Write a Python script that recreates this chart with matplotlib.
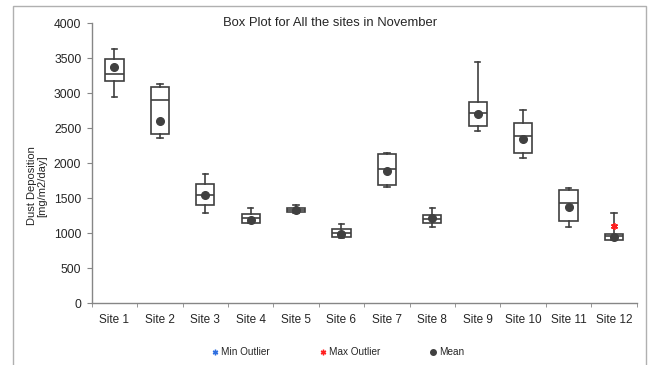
import matplotlib
matplotlib.use("Agg")
import matplotlib.pyplot as plt
from matplotlib.lines import Line2D
from matplotlib.patches import Rectangle

plt.rcParams['font.family'] = ['Liberation Sans', 'DejaVu Sans']

sites = ['Site 1', 'Site 2', 'Site 3', 'Site 4', 'Site 5', 'Site 6',
         'Site 7', 'Site 8', 'Site 9', 'Site 10', 'Site 11', 'Site 12']
whisker_low = [2945, 2355, 1285, 1142, 1288, 940, 1665, 1095, 2460, 2072, 1095, 905]
q1 = [3175, 2412, 1405, 1145, 1310, 945, 1690, 1152, 2536, 2146, 1182, 910]
median = [3272, 2898, 1546, 1213, 1333, 1000, 1915, 1205, 2712, 2384, 1428, 958]
q3 = [3484, 3084, 1700, 1270, 1357, 1060, 2128, 1261, 2880, 2576, 1615, 990]
whisker_high = [3628, 3131, 1850, 1358, 1398, 1127, 2142, 1360, 3441, 2755, 1642, 1292]
mean = [3374, 2600, 1546, 1194, 1330, 986, 1888, 1212, 2703, 2342, 1371, 952]
max_outlier_site = [12]
max_outlier_val = [1110]

edge = '#3f3f3f'
axis_col = '#868686'
text_col = '#262626'

fig = plt.figure(figsize=(6.51, 3.65), dpi=100)
ax = fig.add_axes([0.1409, 0.1690, 0.978 - 0.1409, 0.9362 - 0.1690])

stats = []
for i in range(len(sites)):
    stats.append({'whislo': whisker_low[i], 'q1': q1[i], 'med': median[i],
                  'q3': q3[i], 'whishi': whisker_high[i], 'fliers': []})

pos = list(range(1, len(sites) + 1))
ax.bxp(stats, positions=pos, widths=0.4, capwidths=0.12, showfliers=False,
       patch_artist=True,
       boxprops=dict(facecolor='white', edgecolor=edge, linewidth=1.2),
       medianprops=dict(color=edge, linewidth=1.2),
       whiskerprops=dict(color=edge, linewidth=1.2),
       capprops=dict(color=edge, linewidth=1.2), zorder=2)

ax.plot(pos, mean, 'o', color='#404040', markersize=5.5, zorder=4)
ax.plot(max_outlier_site, max_outlier_val, marker=(6, 2, 0), linestyle='none',
        color='#ff2020', markersize=5, markeredgewidth=1.2, zorder=5)

ax.set_xlim(0.5, len(sites) + 0.5)
ax.set_ylim(0, 4000)
ax.set_yticks(range(0, 4001, 500))
ax.set_xticks(pos)
ax.set_xticklabels(sites)
ax.set_xticks([p + 0.5 for p in range(len(sites) + 1)], minor=True)
ax.tick_params(axis='x', which='major', length=0, pad=8, labelsize=8.5, labelcolor=text_col)
ax.tick_params(axis='x', which='minor', length=3, color=axis_col, direction='out')
ax.tick_params(axis='y', length=3.5, color=axis_col, labelsize=8.7, labelcolor=text_col, pad=4)

for side in ['top', 'right']:
    ax.spines[side].set_visible(False)
for side in ['left', 'bottom']:
    ax.spines[side].set_color(axis_col)
    ax.spines[side].set_linewidth(1.0)

fig.text(330 / 651, 1 - 23.3 / 365, 'Box Plot for All the sites in November',
         ha='center', va='center', fontsize=9.4, color=text_col)
fig.text(37 / 651, 1 - 186 / 365, 'Dust Deposition\n[mg/m2/day]', rotation=90,
         ha='center', va='center', fontsize=8, color=text_col, linespacing=1.0)

handles = [
    Line2D([], [], marker=(6, 2, 0), linestyle='none', color='#2f6fe0',
           markersize=4, markeredgewidth=1.0),
    Line2D([], [], marker=(6, 2, 0), linestyle='none', color='#ff2020',
           markersize=4, markeredgewidth=1.0),
    Line2D([], [], marker='o', linestyle='none', color='#404040', markersize=4),
]
fig.legend(handles, ['Min Outlier', 'Max Outlier', 'Mean'], loc='center',
           bbox_to_anchor=(338 / 651, 1 - 352 / 365), ncol=3, frameon=False,
           fontsize=7.2, handlelength=0.6, handletextpad=0.3, columnspacing=5.0,
           labelcolor=text_col)

# chart area border
fig.patches.append(Rectangle((13 / 651, -0.05), (646 - 13) / 651, 1.05 - 6 / 365,
                             transform=fig.transFigure, fill=False,
                             edgecolor='#b0b0b0', linewidth=1.0))

fig.savefig('out.png', dpi=100)
